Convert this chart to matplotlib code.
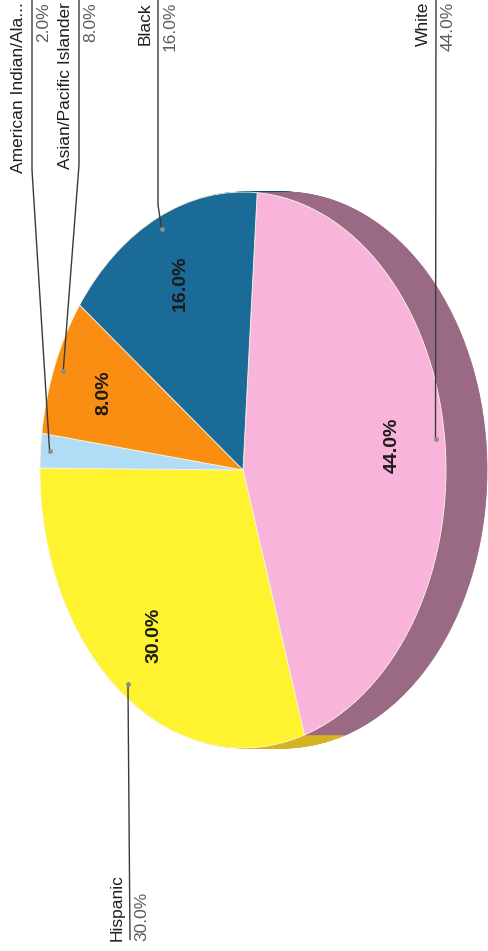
import numpy as np
import matplotlib.pyplot as plt

labels = ['White', 'Hispanic', 'American Indian/Ala...', 'Asian/Pacific Islander', 'Black']
shares = [44.0, 30.0, 2.0, 8.0, 16.0]
pct_labels = ['44.0%', '30.0%', '2.0%', '8.0%', '16.0%']

top_colors = ['#f8b4da', '#fff22e', '#b0dcf6', '#f98e12', '#1a6b98']
side_colors = ['#9a6a85', '#d6b225', '#7a9fb5', '#b5660c', '#124d6e']

W, H = 489, 951
fig = plt.figure(figsize=(W / 100, H / 100), dpi=100)
ax = fig.add_axes([0, 0, 1, 1])
ax.set_xlim(0, W)
ax.set_ylim(H, 0)
ax.axis('off')
ax.set_zorder(3)

# ellipse of the top face (pixels) and depth of the side wall
cx, cy, a, b, depth = 243, 470, 203, 278, 41
pax = fig.add_axes([(cx - a) / W, (H - cy - b) / H, (2 * a + depth) / W, 2 * b / H])
pax.set_zorder(1)

start = 86
# side wall: stack of darker pies shifted to the right
for s in np.arange(depth, 0, -1):
    wedges, _ = pax.pie(shares, colors=side_colors, startangle=start, counterclock=False,
                        center=(s / a, 0), radius=1, wedgeprops=dict(linewidth=0))
    for w in wedges:
        w.set_edgecolor(w.get_facecolor())
        w.set_linewidth(0.6)

wedges, _, autotexts = pax.pie(
    shares, colors=top_colors, startangle=start, counterclock=False,
    center=(0, 0), radius=1, pctdistance=0.74,
    autopct=lambda p: '' if p < 5 else '%.1f%%' % p,
    wedgeprops=dict(linewidth=0.6, edgecolor='#fdf6e0'))
for t in autotexts:
    t.set_rotation(90)
    t.set_fontsize(14)
    t.set_fontweight('bold')
    t.set_family('Liberation Sans')
    t.set_color('#1a1a1a')

pax.set_xlim(-1, 1 + depth / a)
pax.set_ylim(-1, 1)
pax.set_aspect('auto')
pax.axis('off')

# leader lines and outside labels
line_x = [436, 130, 32, 79, 158]
elbow_y = [None, None, 170, 165, 205]
at_top = [True, False, True, True, True]

to_ax = ax.transData.inverted()
theta = np.deg2rad(start - (np.cumsum(shares) - np.array(shares) / 2) / 100 * 360)
for i, lab in enumerate(labels):
    px, py = to_ax.transform(pax.transData.transform((0.955 * np.cos(theta[i]), 0.955 * np.sin(theta[i]))))
    lx = line_x[i]
    if at_top[i]:
        xs, ys = [lx], [0]
        if elbow_y[i] is not None:
            xs.append(lx); ys.append(elbow_y[i])
        xs.append(px); ys.append(py)
        ty, va = 2, 'top'
    else:
        xs, ys = [px, lx], [py, 940]
        ty, va = 941, 'bottom'
    ax.plot(xs, ys, color='#3a3a3a', lw=1.0, solid_capstyle='butt')
    ax.plot(px, py, 'o', ms=3.5, color='#8c8c8c', mec='none')
    ax.text(lx - 13, ty, lab, rotation=90, ha='center', va=va,
            fontsize=12.5, family='Liberation Sans', color='#1e1e1e')
    ax.text(lx + 12, ty, pct_labels[i], rotation=90, ha='center', va=va,
            fontsize=12.5, family='Liberation Sans', color='#5c5c5c')

fig.savefig('out.png', dpi=100)
